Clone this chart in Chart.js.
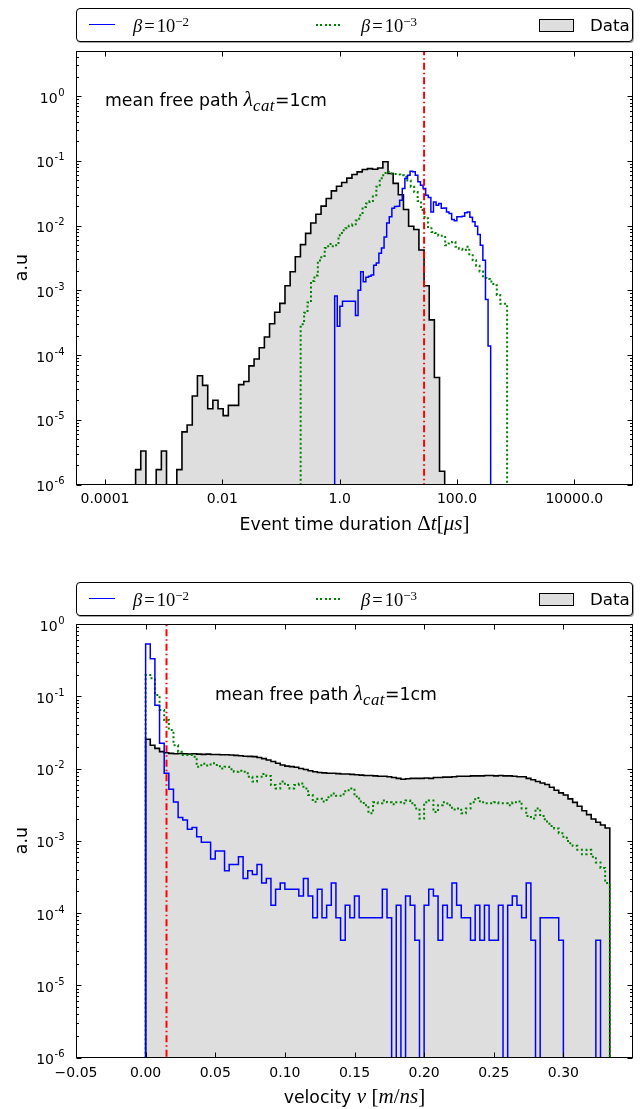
<!DOCTYPE html>
<html>
<head>
<meta charset="utf-8">
<script src="https://cdn.jsdelivr.net/npm/chart.js"></script>
<style>
html,body{margin:0;padding:0;background:#fff}
#wrap{position:relative;width:643px;height:1109px;overflow:hidden;font-family:'DejaVu Sans',sans-serif;color:#000}
canvas{position:absolute;left:0}
.t{position:absolute;white-space:nowrap;font-size:16.7px;line-height:1}
.tt{font-size:17.3px}
.m{font-family:'Liberation Serif',serif;font-size:18.5px}
.mt{font-family:'Liberation Serif',serif;font-size:21px}
.i{font-style:italic}
sup,sub{line-height:0;font-size:70%}
sup{vertical-align:0.48em}
sub{vertical-align:-0.28em;font-size:80%;letter-spacing:0.5px}
.eq{padding:0 2px}
.leg{position:absolute;left:76px;width:557px;height:34px;box-sizing:border-box;border:1px solid #000;border-radius:4px;background:#fff;box-shadow:1px 1px 0 rgba(0,0,0,0.35)}
.leg .sw{position:absolute}
.ctr{text-align:center;width:557px;left:76px}
.rot{width:100px;text-align:center;transform:rotate(-90deg);transform-origin:50% 50%}
</style>
</head>
<body>
<div id="wrap">
  <canvas id="c1" width="643" height="555" style="top:0"></canvas>
  <canvas id="c2" width="643" height="554" style="top:555px"></canvas>

  <!-- top legend -->
  <div class="leg" style="top:8px">
    <div class="sw" style="left:12px;top:15px;width:26px;height:0;border-top:1.5px solid #0000ff"></div>
    <div class="t" style="left:56px;top:8px"><span class="m i">β</span><span class="m eq">=</span><span class="m">10<sup>−2</sup></span></div>
    <div class="sw" style="left:239px;top:15px;width:26px;height:2px;background:repeating-linear-gradient(90deg,#008000 0 2px,transparent 2px 4.5px)"></div>
    <div class="t" style="left:284px;top:8px"><span class="m i">β</span><span class="m eq">=</span><span class="m">10<sup>−3</sup></span></div>
    <div class="sw" style="left:462px;top:10px;width:35px;height:13px;box-sizing:border-box;border:1px solid #000;background:#dedede"></div>
    <div class="t" style="left:513px;top:8px">Data</div>
  </div>

  <!-- bottom legend -->
  <div class="leg" style="top:582px">
    <div class="sw" style="left:12px;top:15px;width:26px;height:0;border-top:1.5px solid #0000ff"></div>
    <div class="t" style="left:56px;top:8px"><span class="m i">β</span><span class="m eq">=</span><span class="m">10<sup>−2</sup></span></div>
    <div class="sw" style="left:239px;top:15px;width:26px;height:2px;background:repeating-linear-gradient(90deg,#008000 0 2px,transparent 2px 4.5px)"></div>
    <div class="t" style="left:284px;top:8px"><span class="m i">β</span><span class="m eq">=</span><span class="m">10<sup>−3</sup></span></div>
    <div class="sw" style="left:462px;top:10px;width:35px;height:13px;box-sizing:border-box;border:1px solid #000;background:#dedede"></div>
    <div class="t" style="left:513px;top:8px">Data</div>
  </div>

  <!-- annotations -->
  <div class="t tt" style="left:105px;top:89px">mean free path <span class="mt i">λ<sub>cat</sub></span>=1cm</div>
  <div class="t tt" style="left:215px;top:683px">mean free path <span class="mt i">λ<sub>cat</sub></span>=1cm</div>

  <!-- axis titles -->
  <div class="t tt ctr" style="top:513px">Event time duration <span class="mt">Δ<span class="i">t</span>[<span class="i">μs</span>]</span></div>
  <div class="t tt ctr" style="top:1086px">velocity <span class="mt i">v</span> <span class="mt">[<span class="i">m</span>/<span class="i">ns</span>]</span></div>
  <div class="t tt rot" style="left:-28px;top:259px">a.u</div>
  <div class="t tt rot" style="left:-28px;top:832px">a.u</div>
</div>

<script>
// ---------------- data ----------------
// top panel: event time duration (log10 bin ranges, microseconds)
const TOP_DATA_RANGE = [-3.478, 1.790];
const TOP_BLUE_RANGE = [-0.085, 2.574];
const TOP_GREEN_RANGE = [-0.665, 2.854];
const TOP_RED_T = 27.5;

const TOP_DATA = [
  1.7e-6, 3.3e-6, 0, 0, 1.7e-6, 3.3e-6, 0, 0, 1.7e-6, 6.5e-6,
  8.3e-6, 2.33e-5, 4.8e-5, 3.4e-5, 1.48e-5, 2.0e-5, 1.48e-5, 1.16e-5, 1.67e-5, 1.67e-5,
  3.5e-5, 3.9e-5, 6.8e-5, 8.7e-5, 1.3e-4, 1.9e-4, 3.05e-4, 4.6e-4, 6.3e-4, 1.18e-3,
  1.94e-3, 3.3e-3, 5.1e-3, 7.6e-3, 1.1e-2, 1.5e-2, 2.0e-2, 2.63e-2, 3.45e-2, 4.07e-2,
  4.65e-2, 5.42e-2, 6.17e-2, 6.78e-2, 7.36e-2, 7.6e-2, 7.46e-2, 7.8e-2, 9.7e-2, 6.4e-2,
  4.5e-2, 3.0e-2, 1.78e-2, 9.8e-3, 8.7e-3, 4.2e-3, 1.18e-3, 3.5e-4, 4.5e-5, 1.6e-6
];
const TOP_BLUE = [
  8.2e-4, 2.8e-4, 5.7e-4, 6.8e-4, 6.8e-4, 6.8e-4, 6.8e-4, 6.8e-4, 4.1e-4, 1.0e-3,
  1.94e-3, 1.36e-3, 1.6e-3, 1.65e-3, 1.72e-3, 2.45e-3, 2.65e-3, 3.76e-3, 4.5e-3, 6.7e-3,
  1.1e-2, 1.37e-2, 1.85e-2, 1.97e-2, 2.0e-2, 2.48e-2, 3.75e-2, 5.36e-2, 6.0e-2, 6.95e-2,
  6.8e-2, 6.0e-2, 4.75e-2, 4.2e-2, 3.75e-2, 2.96e-2, 2.73e-2, 1.63e-2, 2.33e-2, 2.07e-2,
  2.2e-2, 1.85e-2, 1.87e-2, 1.63e-2, 1.54e-2, 1.25e-2, 1.19e-2, 1.37e-2, 1.37e-2, 1.4e-2,
  1.58e-2, 1.63e-2, 1.35e-2, 1.15e-2, 9.8e-3, 7.3e-3, 5.0e-3, 2.93e-3, 7.2e-4, 1.38e-4
];
const TOP_GREEN = [
  3.0e-4, 4.5e-4, 6.5e-4, 1.4e-3, 1.7e-3, 2.9e-3, 3.4e-3, 4.5e-3, 5.2e-3, 4.8e-3,
  5.0e-3, 7.1e-3, 8.5e-3, 9.1e-3, 1.0e-2, 1.05e-2, 1.2e-2, 1.45e-2, 1.94e-2, 2.2e-2,
  2.4e-2, 2.95e-2, 4.0e-2, 5.4e-2, 6.5e-2, 6.8e-2, 6.4e-2, 6.3e-2, 6.2e-2, 6.0e-2,
  5.7e-2, 5.0e-2, 4.0e-2, 3.3e-2, 2.4e-2, 1.75e-2, 1.3e-2, 9.5e-3, 8.0e-3, 7.7e-3,
  7.0e-3, 6.7e-3, 5.0e-3, 5.3e-3, 5.6e-3, 4.7e-3, 4.4e-3, 4.2e-3, 4.7e-3, 3.5e-3,
  2.93e-3, 2.4e-3, 1.95e-3, 1.55e-3, 1.5e-3, 1.37e-3, 1.2e-3, 8.5e-4, 6.2e-4, 6.2e-4
];
const TOP_X_TICKS = [1e-4, 1e-2, 1, 100, 1e4];
const TOP_X_LABELS = ['0.0001', '0.01', '1.0', '100.0', '10000.0'];

// bottom panel: velocity (m/ns), 100 bins on [0, 1/3]
const BOT_RANGE = [0, 0.33333];
const BOT_RED_V = 0.015;
const BOT_DATA = [
  2.54e-2, 2.1e-2, 1.9e-2, 1.71e-2, 1.65e-2,
  1.62e-2, 1.6e-2, 1.61e-2, 1.6e-2, 1.59e-2,
  1.6e-2, 1.58e-2, 1.57e-2, 1.58e-2, 1.56e-2,
  1.56e-2, 1.55e-2, 1.55e-2, 1.54e-2, 1.52e-2,
  1.5e-2, 1.48e-2, 1.47e-2, 1.46e-2, 1.42e-2,
  1.37e-2, 1.31e-2, 1.25e-2, 1.18e-2, 1.12e-2,
  1.08e-2, 1.06e-2, 1.04e-2, 1.0e-2, 9.7e-3,
  9.3e-3, 9.0e-3, 8.8e-3, 8.7e-3, 8.6e-3,
  8.6e-3, 8.5e-3, 8.4e-3, 8.4e-3, 8.3e-3,
  8.2e-3, 8.1e-3, 8.0e-3, 8.0e-3, 7.9e-3,
  7.8e-3, 7.8e-3, 7.7e-3, 7.5e-3, 7.3e-3,
  7.1e-3, 7.2e-3, 7.3e-3, 7.3e-3, 7.3e-3,
  7.4e-3, 7.3e-3, 7.5e-3, 7.5e-3, 7.6e-3,
  7.6e-3, 7.7e-3, 7.8e-3, 7.8e-3, 7.8e-3,
  7.9e-3, 7.9e-3, 7.9e-3, 8.0e-3, 8.0e-3,
  7.9e-3, 8.0e-3, 7.9e-3, 7.9e-3, 7.8e-3,
  7.7e-3, 7.7e-3, 7.3e-3, 7.0e-3, 6.6e-3,
  6.3e-3, 6.0e-3, 5.5e-3, 5.0e-3, 4.6e-3,
  4.3e-3, 3.8e-3, 3.4e-3, 3.0e-3, 2.6e-3,
  2.3e-3, 2.0e-3, 1.8e-3, 1.65e-3, 1.5e-3
];
const BOT_BLUE = [
  0.53, 0.33, 7.5e-2, 2.23e-2, 8.6e-3,
  5.15e-3, 3.44e-3, 2.1e-3, 1.94e-3, 1.44e-3,
  1.52e-3, 1.14e-3, 9.5e-4, 9.5e-4, 5.6e-4,
  7.2e-4, 7.2e-4, 3.85e-4, 4.7e-4, 4.7e-4,
  6.0e-4, 3.0e-4, 3.85e-4, 3.4e-4, 4.7e-4,
  2.6e-4, 3.0e-4, 1.28e-4, 2.13e-4, 2.6e-4,
  2.13e-4, 2.13e-4, 2.13e-4, 1.72e-4, 3.0e-4,
  1.72e-4, 8.6e-5, 2.13e-4, 8.6e-5, 1.28e-4,
  2.6e-4, 8.6e-5, 4.2e-5, 1.28e-4, 8.6e-5,
  1.72e-4, 8.6e-5, 8.6e-5, 8.6e-5, 8.6e-5,
  8.6e-5, 2.13e-4, 8.6e-5, 0, 1.28e-4,
  0, 1.72e-4, 1.28e-4, 4.2e-5, 0,
  1.28e-4, 2.13e-4, 1.72e-4, 4.2e-5, 1.28e-4,
  8.6e-5, 2.6e-4, 1.28e-4, 8.6e-5, 8.6e-5,
  4.2e-5, 1.28e-4, 4.2e-5, 1.28e-4, 4.2e-5,
  4.2e-5, 1.28e-4, 0, 1.28e-4, 1.72e-4,
  1.28e-4, 8.6e-5, 2.6e-4, 4.2e-5, 0,
  8.6e-5, 8.6e-5, 8.6e-5, 8.6e-5, 4.2e-5,
  0, 0, 0, 0, 0,
  0, 0, 4.2e-5, 0, 0
];
const BOT_GREEN = [
  0.197, 0.177, 0.104, 6.45e-2, 4.7e-2,
  3.4e-2, 2.1e-2, 1.71e-2, 1.54e-2, 1.54e-2,
  1.46e-2, 1.06e-2, 1.16e-2, 1.1e-2, 1.18e-2,
  1.12e-2, 1.0e-2, 1.06e-2, 9.8e-3, 9.0e-3,
  9.3e-3, 9.0e-3, 7.7e-3, 6.6e-3, 7.7e-3,
  8.4e-3, 7.9e-3, 5.9e-3, 5.3e-3, 6.6e-3,
  5.9e-3, 5.3e-3, 5.9e-3, 6.2e-3, 5.3e-3,
  4.3e-3, 3.47e-3, 3.8e-3, 3.5e-3, 4.0e-3,
  4.5e-3, 4.2e-3, 4.4e-3, 5.0e-3, 5.3e-3,
  4.1e-3, 3.5e-3, 3.1e-3, 2.4e-3, 3.4e-3,
  3.3e-3, 3.6e-3, 3.4e-3, 3.2e-3, 3.4e-3,
  3.3e-3, 3.6e-3, 3.3e-3, 2.8e-3, 2.04e-3,
  3.4e-3, 3.6e-3, 2.5e-3, 3.1e-3, 3.4e-3,
  3.1e-3, 2.7e-3, 2.8e-3, 2.4e-3, 2.8e-3,
  3.4e-3, 3.9e-3, 3.4e-3, 3.3e-3, 3.3e-3,
  3.4e-3, 3.3e-3, 3.3e-3, 3.1e-3, 3.4e-3,
  3.5e-3, 2.8e-3, 2.2e-3, 2.04e-3, 2.8e-3,
  2.2e-3, 1.84e-3, 1.6e-3, 1.48e-3, 1.27e-3,
  1.1e-3, 9.2e-4, 8.5e-4, 7.5e-4, 6.5e-4,
  7.5e-4, 6.0e-4, 5.0e-4, 4.2e-4, 2.6e-4
];
const BOT_X_TICKS = [-0.05, 0, 0.05, 0.10, 0.15, 0.20, 0.25, 0.30];
const BOT_X_LABELS = ['\u22120.05', '0.00', '0.05', '0.10', '0.15', '0.20', '0.25', '0.30'];

const Y_TICKS = [1e-6, 1e-5, 1e-4, 1e-3, 1e-2, 1e-1, 1];
const Y_LABEL_BASE = '10';
const Y_LABEL_EXP = ['-6', '-5', '-4', '-3', '-2', '-1', '0'];

// ---------------- helpers ----------------
const FLOOR = 1e-9;
function logEdges(r, n) {
  const e = [];
  for (let i = 0; i <= n; i++) e.push(Math.pow(10, r[0] + (r[1] - r[0]) * i / n));
  return e;
}
function linEdges(r, n) {
  const e = [];
  for (let i = 0; i <= n; i++) e.push(r[0] + (r[1] - r[0]) * i / n);
  return e;
}
function stepPoints(edges, values) {
  const pts = [{x: edges[0], y: FLOOR}];
  values.forEach((v, i) => {
    const y = v > 0 ? v : FLOOR;
    pts.push({x: edges[i], y: y}, {x: edges[i + 1], y: y});
  });
  pts.push({x: edges[edges.length - 1], y: FLOOR});
  return pts;
}
function vline(x) { return [{x: x, y: FLOOR}, {x: x, y: 1e3}]; }

// frame + inward ticks on all four sides (matplotlib classic look)
const frameTicks = {
  id: 'frameTicks',
  afterDatasetsDraw(chart) {
    const {ctx, chartArea: a, scales} = chart;
    const x = scales.x, y = scales.y;
    const L = Math.round(a.left) + 0.5, R = Math.round(a.right) - 0.5;
    const T = Math.round(a.top) + 0.5, B = Math.round(a.bottom) - 0.5;
    ctx.save();
    ctx.strokeStyle = '#000';
    ctx.lineWidth = 1;
    ctx.beginPath();
    const lo = Math.floor(Math.log10(y.min)), hi = Math.ceil(Math.log10(y.max));
    for (let k = lo; k <= hi; k++) {
      for (let m = 1; m <= 9; m++) {
        const v = m * Math.pow(10, k);
        if (v < y.min * 0.999 || v > y.max * 1.001) continue;
        const p = Math.round(y.getPixelForValue(v)) + 0.5;
        const len = m === 1 ? 5 : 2.5;
        ctx.moveTo(L, p); ctx.lineTo(L + len, p);
        ctx.moveTo(R, p); ctx.lineTo(R - len, p);
      }
    }
    x.ticks.forEach(t => {
      const p = Math.round(x.getPixelForValue(t.value)) + 0.5;
      ctx.moveTo(p, B); ctx.lineTo(p, B - 5);
      ctx.moveTo(p, T); ctx.lineTo(p, T + 5);
    });
    ctx.stroke();
    ctx.strokeRect(L, T, R - L, B - T);
    ctx.restore();
  }
};

// y tick labels of the form 10^k with a real superscript
const yLabels = {
  id: 'yLabels',
  afterDraw(chart) {
    const {ctx, chartArea: a, scales} = chart;
    const y = scales.y;
    ctx.save();
    ctx.fillStyle = '#000';
    ctx.textAlign = 'right';
    ctx.textBaseline = 'alphabetic';
    Y_TICKS.forEach((v, i) => {
      if (v > y.max * 1.001) return;
      const p = y.getPixelForValue(v);
      const right = a.left - 11.5;
      ctx.font = '10px "DejaVu Sans"';
      const e = Y_LABEL_EXP[i];
      const ew = ctx.measureText(e).width;
      ctx.fillText(e, right, p - 0.5);
      ctx.font = '14px "DejaVu Sans"';
      ctx.fillText(Y_LABEL_BASE, right - ew - 0.5, p + 6.5);
    });
    ctx.restore();
  }
};

const tickFont = {family: 'DejaVu Sans', size: 14};

function histSet(points, color, width, dash, fill) {
  return {
    data: points,
    borderColor: color,
    borderWidth: width,
    borderDash: dash || [],
    backgroundColor: fill || 'rgba(0,0,0,0)',
    fill: fill ? 'start' : false,
    pointRadius: 0,
    tension: 0,
    borderJoinStyle: 'miter',
    borderCapStyle: 'butt'
  };
}

function makeChart(id, cfg) {
  return new Chart(document.getElementById(id), {
    type: 'line',
    data: {datasets: cfg.datasets},
    options: {
      responsive: false,
      animation: false,
      events: [],
      layout: {padding: {top: cfg.padTop, right: 10, left: 0, bottom: 0}},
      plugins: {legend: {display: false}, tooltip: {enabled: false}},
      scales: {
        x: Object.assign({
          bounds: 'data',
          grid: {display: false, drawTicks: false},
          border: {display: false},
          afterBuildTicks: s => { s.ticks = cfg.xTicks.map(v => ({value: v})); },
          afterFit: s => { s.height = cfg.xHeight; },
          ticks: {autoSkip: false, maxRotation: 0, minRotation: 0, padding: cfg.xPad, color: '#000', font: tickFont,
                  callback: (v, i) => cfg.xLabels[i]}
        }, cfg.x),
        y: {
          type: 'logarithmic',
          min: 1e-6,
          max: cfg.yMax,
          bounds: 'data',
          grid: {display: false, drawTicks: false},
          border: {display: false},
          afterBuildTicks: s => { s.ticks = Y_TICKS.map(v => ({value: v})); },
          afterFit: s => { s.width = 76; },
          ticks: {display: false}
        }
      }
    },
    plugins: [frameTicks, yLabels]
  });
}

// ---------------- top chart ----------------
makeChart('c1', {
  padTop: 51, xHeight: 70.5, yMax: 5, xPad: 6,
  xTicks: TOP_X_TICKS, xLabels: TOP_X_LABELS,
  x: {type: 'logarithmic', min: Math.pow(10, -4.494), max: 1e5},
  datasets: [
    histSet(vline(TOP_RED_T), '#ff0000', 2, [7, 3, 1.5, 3]),
    histSet(stepPoints(logEdges(TOP_BLUE_RANGE, TOP_BLUE.length), TOP_BLUE), '#0000ff', 1.5),
    histSet(stepPoints(logEdges(TOP_GREEN_RANGE, TOP_GREEN.length), TOP_GREEN), '#008000', 2, [2, 2.5]),
    histSet(stepPoints(logEdges(TOP_DATA_RANGE, TOP_DATA.length), TOP_DATA), '#000000', 1.6, null, '#dedede')
  ]
});

// ---------------- bottom chart ----------------
makeChart('c2', {
  padTop: 69, xHeight: 51.5, yMax: 1, xPad: 7,
  xTicks: BOT_X_TICKS, xLabels: BOT_X_LABELS,
  x: {type: 'linear', min: -0.05, max: 0.35},
  datasets: [
    histSet(vline(BOT_RED_V), '#ff0000', 2, [7, 3, 1.5, 3]),
    histSet(stepPoints(linEdges(BOT_RANGE, BOT_BLUE.length), BOT_BLUE), '#0000ff', 1.5),
    histSet(stepPoints(linEdges(BOT_RANGE, BOT_GREEN.length), BOT_GREEN), '#008000', 2, [2, 2.5]),
    histSet(stepPoints(linEdges(BOT_RANGE, BOT_DATA.length), BOT_DATA), '#000000', 1.6, null, '#dedede')
  ]
});
</script>
</body>
</html>
